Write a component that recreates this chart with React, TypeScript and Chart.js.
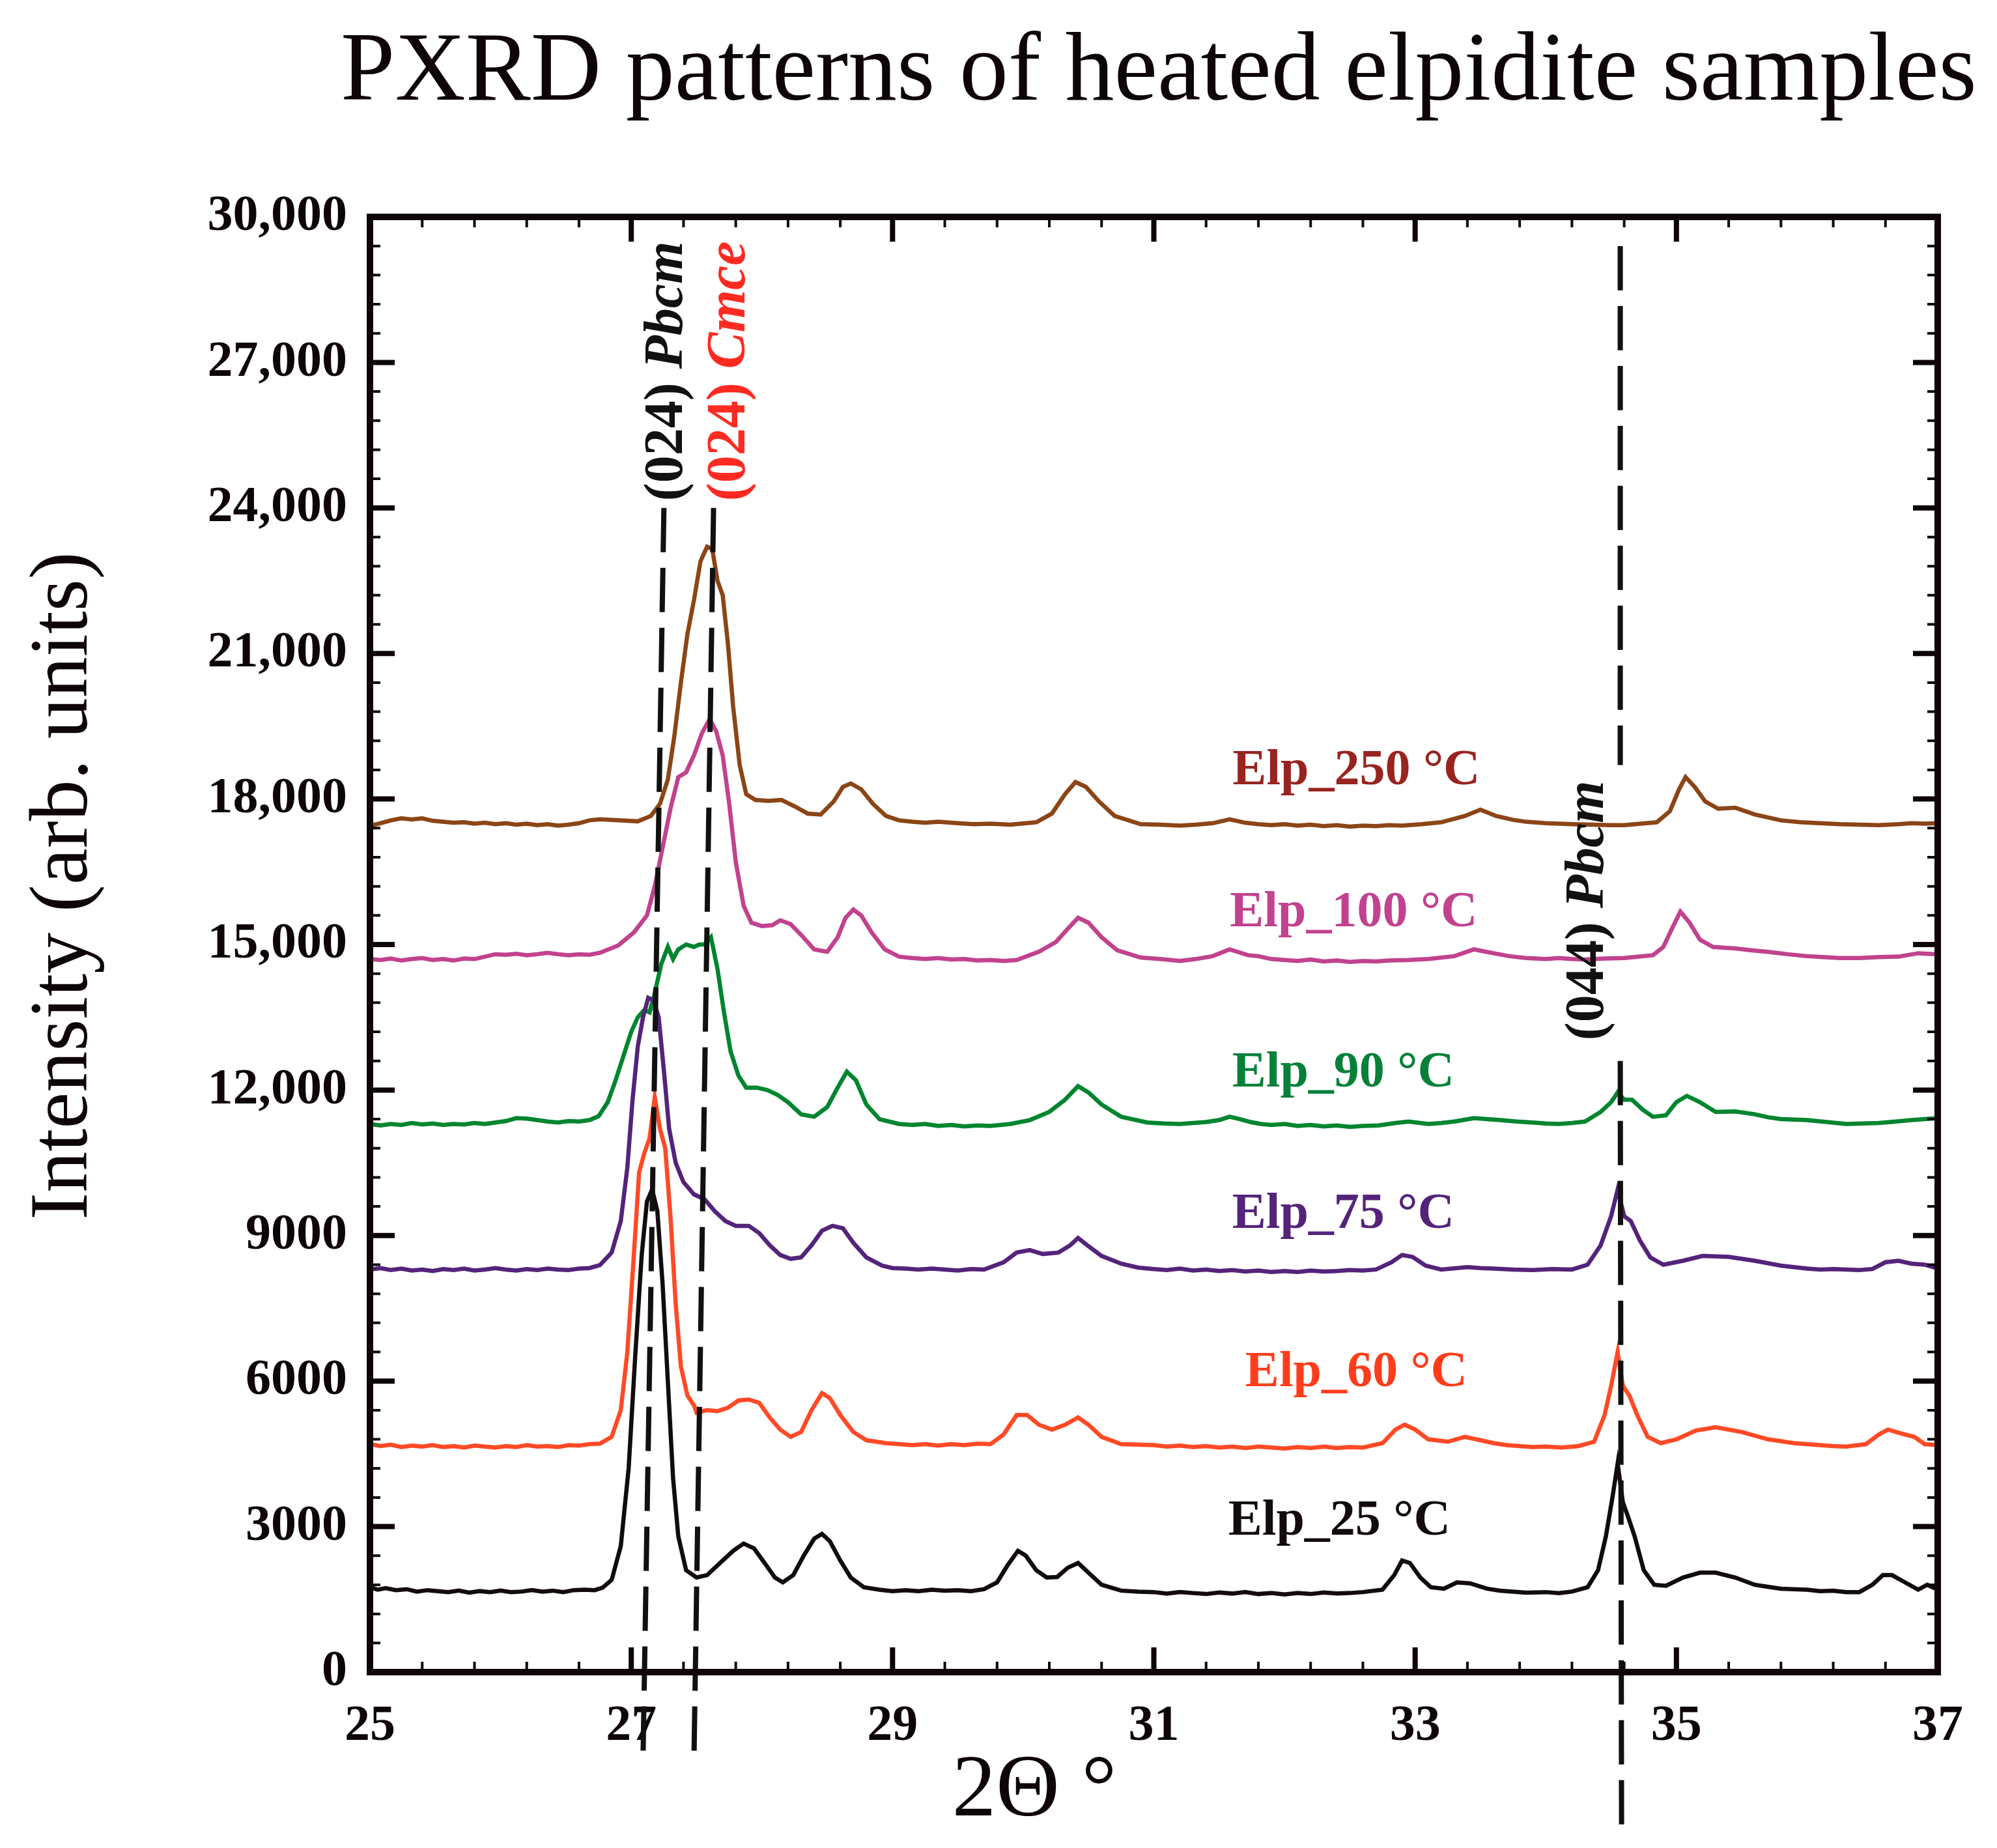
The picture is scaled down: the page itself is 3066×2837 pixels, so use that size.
import { useEffect, useRef } from 'react'
import Chart from 'chart.js/auto'

const W = 3066
const H = 2837
const SERIF = '"Liberation Serif", "Times New Roman", serif'

// 2θ (deg) / intensity pairs, one list per sample
const elp25: [number, number][] = [
  [25.0, 1750], [25.06, 1700], [25.12, 1730], [25.2, 1690], [25.28, 1710], [25.36, 1660], [25.44, 1690],
  [25.52, 1670], [25.6, 1650], [25.68, 1680], [25.76, 1640], [25.84, 1670], [25.92, 1650], [26.0, 1680],
  [26.08, 1650], [26.16, 1660], [26.24, 1690], [26.32, 1660], [26.4, 1680], [26.48, 1650], [26.56, 1690],
  [26.64, 1700], [26.72, 1690], [26.78, 1740], [26.85, 1900], [26.92, 2600],
  [26.98, 4200], [27.03, 6500], [27.08, 8600], [27.12, 9700], [27.16, 9950], [27.2, 9500], [27.24, 8000],
  [27.28, 6000], [27.32, 4000], [27.36, 2800], [27.42, 2100], [27.5, 1950], [27.58, 2000], [27.68, 2250],
  [27.78, 2500], [27.86, 2650], [27.94, 2550], [28.02, 2250], [28.1, 1950], [28.16, 1850], [28.24, 2000],
  [28.32, 2400], [28.4, 2750], [28.46, 2850], [28.52, 2700], [28.6, 2300], [28.68, 1950], [28.78, 1750],
  [28.9, 1700], [29.0, 1670], [29.1, 1690], [29.2, 1670], [29.3, 1700], [29.4, 1680], [29.5, 1690],
  [29.6, 1670], [29.7, 1710], [29.8, 1850], [29.88, 2200],
  [29.96, 2500], [30.02, 2400], [30.1, 2100], [30.18, 1950], [30.26, 1960], [30.34, 2150], [30.42, 2250],
  [30.5, 2050], [30.6, 1800], [30.75, 1680], [30.88, 1660],
  [31.0, 1650], [31.1, 1620], [31.2, 1650], [31.3, 1630], [31.4, 1610], [31.5, 1640], [31.6, 1620],
  [31.7, 1650], [31.8, 1610], [31.9, 1630], [32.0, 1600], [32.1, 1630], [32.2, 1610], [32.3, 1640],
  [32.4, 1620], [32.5, 1630], [32.6, 1650], [32.75, 1700], [32.84, 2000], [32.9, 2300], [32.96, 2250],
  [33.04, 1950], [33.12, 1750], [33.22, 1720], [33.32, 1850], [33.42, 1830], [33.55, 1720], [33.65, 1680],
  [33.75, 1660], [33.85, 1640], [34.0, 1650], [34.1, 1630], [34.2, 1660], [34.32, 1750], [34.4, 2100],
  [34.46, 2800], [34.51, 3600], [34.55, 4300], [34.59, 3500],
  [34.63, 3200], [34.68, 2800], [34.75, 2100], [34.83, 1800], [34.92, 1780], [35.05, 1950], [35.18, 2050],
  [35.3, 2050], [35.45, 1950], [35.6, 1800], [35.7, 1760], [35.8, 1720], [35.9, 1710], [36.0, 1700],
  [36.1, 1670], [36.2, 1680], [36.3, 1650], [36.4, 1650],
  [36.5, 1800], [36.58, 2000], [36.65, 2000], [36.75, 1850], [36.85, 1700], [36.92, 1800], [37.0, 1700],
]

const elp60: [number, number][] = [
  [25.0, 4700], [25.08, 4660], [25.16, 4690], [25.24, 4640], [25.32, 4670], [25.4, 4650], [25.48, 4680],
  [25.56, 4640], [25.64, 4660], [25.72, 4630], [25.8, 4670], [25.88, 4650], [25.96, 4630], [26.04, 4660],
  [26.12, 4640], [26.2, 4680], [26.28, 4650], [26.36, 4660], [26.44, 4640], [26.52, 4680], [26.6, 4670],
  [26.68, 4700], [26.76, 4710], [26.85, 4850], [26.92, 5400], [26.97, 6600], [27.02, 8600],
  [27.06, 10300], [27.1, 10700], [27.14, 11000], [27.18, 11850], [27.22, 11200], [27.26, 10800],
  [27.3, 9400], [27.34, 7600], [27.38, 6300], [27.43, 5700], [27.48, 5500], [27.5, 5350], [27.58, 5400],
  [27.66, 5380], [27.74, 5450], [27.82, 5600], [27.9, 5620], [27.98, 5550], [28.06, 5250], [28.14, 5000],
  [28.22, 4850], [28.3, 4950], [28.38, 5400], [28.46, 5750], [28.52, 5650], [28.6, 5300], [28.7, 4950],
  [28.8, 4780], [28.95, 4720], [29.05, 4700], [29.15, 4680], [29.25, 4700], [29.35, 4670], [29.45, 4700],
  [29.55, 4680], [29.65, 4710], [29.75, 4700], [29.85, 4900], [29.95, 5300],
  [30.03, 5300], [30.12, 5100], [30.22, 5000], [30.32, 5100], [30.42, 5250], [30.5, 5100], [30.6, 4850],
  [30.75, 4700], [30.88, 4690],
  [31.0, 4680], [31.1, 4650], [31.2, 4670], [31.3, 4640], [31.4, 4660], [31.5, 4630], [31.6, 4650],
  [31.7, 4620], [31.8, 4650], [31.9, 4630], [32.0, 4610], [32.1, 4640], [32.2, 4620], [32.3, 4650],
  [32.4, 4620], [32.5, 4640], [32.6, 4630],
  [32.75, 4720], [32.85, 5000], [32.92, 5100], [33.0, 5000], [33.1, 4800], [33.25, 4750], [33.38, 4850],
  [33.5, 4780], [33.6, 4720], [33.7, 4680], [33.8, 4660], [33.9, 4640], [34.0, 4650], [34.12, 4630],
  [34.25, 4660], [34.37, 4750], [34.45, 5300], [34.5, 5900],
  [34.55, 6600], [34.59, 5900], [34.64, 5700], [34.7, 5300], [34.78, 4850], [34.88, 4720], [35.0, 4800],
  [35.15, 4980], [35.3, 5050], [35.5, 4950], [35.7, 4800], [35.8, 4760], [35.9, 4720], [36.0, 4700],
  [36.1, 4680], [36.2, 4660], [36.3, 4650],
  [36.45, 4700], [36.55, 4900], [36.62, 5000], [36.72, 4920], [36.82, 4850], [36.9, 4700], [37.0, 4680],
]

const elp75: [number, number][] = [
  [25.0, 8300], [25.08, 8330], [25.16, 8290], [25.24, 8320], [25.32, 8280], [25.4, 8300], [25.48, 8270],
  [25.56, 8310], [25.64, 8290], [25.72, 8320], [25.8, 8280], [25.88, 8300], [25.96, 8330], [26.04, 8300],
  [26.12, 8280], [26.2, 8310], [26.28, 8290], [26.36, 8320], [26.44, 8300], [26.52, 8290], [26.6, 8320],
  [26.68, 8330], [26.76, 8390], [26.85, 8650], [26.92, 9300], [26.97, 10400], [27.01, 11800],
  [27.05, 12900], [27.09, 13500], [27.13, 13900], [27.17, 13850], [27.21, 13500], [27.25, 12400],
  [27.29, 11200], [27.34, 10500], [27.4, 10100], [27.48, 9850], [27.56, 9750], [27.64, 9500], [27.72, 9300],
  [27.8, 9200], [27.9, 9200], [27.98, 9050], [28.06, 8800], [28.14, 8600], [28.22, 8520], [28.3, 8550],
  [28.38, 8800], [28.46, 9100], [28.54, 9200], [28.62, 9150], [28.7, 8850], [28.8, 8550], [28.92, 8380],
  [29.0, 8330], [29.1, 8320], [29.2, 8300], [29.3, 8320], [29.4, 8300], [29.5, 8280], [29.6, 8310],
  [29.7, 8300], [29.85, 8450], [29.95, 8650], [30.05, 8700], [30.15, 8620],
  [30.27, 8650], [30.36, 8800], [30.42, 8950], [30.5, 8780], [30.6, 8580], [30.75, 8420], [30.88, 8340],
  [31.0, 8310], [31.1, 8290], [31.2, 8320], [31.3, 8280], [31.4, 8300], [31.5, 8270], [31.6, 8290],
  [31.7, 8260], [31.8, 8280], [31.9, 8250], [32.0, 8270], [32.1, 8250], [32.2, 8280], [32.3, 8260],
  [32.4, 8270], [32.5, 8290], [32.6, 8280],
  [32.7, 8300], [32.82, 8450], [32.9, 8600],
  [32.98, 8560], [33.08, 8380], [33.2, 8300], [33.4, 8350], [33.5, 8330], [33.6, 8320], [33.75, 8300],
  [33.9, 8290], [34.05, 8310], [34.2, 8300],
  [34.32, 8400], [34.42, 8800], [34.5, 9400], [34.55, 9950], [34.6, 9400], [34.65, 9300], [34.72, 8900],
  [34.8, 8550], [34.9, 8400], [35.05, 8480], [35.2, 8580], [35.4, 8560], [35.6, 8480], [35.8, 8380],
  [35.9, 8350], [36.0, 8320], [36.1, 8300], [36.2, 8310], [36.3, 8300], [36.4, 8290], [36.5, 8310],
  [36.6, 8450], [36.7, 8480], [36.8, 8420], [36.9, 8400], [37.0, 8320],
]

const elp90: [number, number][] = [
  [25.0, 11300], [25.08, 11270], [25.16, 11300], [25.24, 11280], [25.32, 11320], [25.4, 11290],
  [25.48, 11310], [25.56, 11280], [25.64, 11300], [25.72, 11290], [25.8, 11320], [25.88, 11300],
  [25.96, 11330], [26.04, 11360], [26.12, 11420], [26.2, 11410], [26.28, 11380], [26.36, 11350],
  [26.44, 11330], [26.52, 11360], [26.6, 11350], [26.68, 11380], [26.75, 11460], [26.82, 11750], [26.88, 12200],
  [26.94, 12700], [27.0, 13200], [27.05, 13500], [27.1, 13650], [27.14, 13600], [27.18, 14000],
  [27.23, 14600], [27.28, 14950], [27.32, 14700], [27.36, 14900], [27.42, 15000], [27.48, 14950],
  [27.52, 15000], [27.56, 15000], [27.61, 15150], [27.66, 14500], [27.71, 13600], [27.76, 12800],
  [27.82, 12300], [27.88, 12050], [27.96, 12050], [28.04, 12000], [28.12, 11900], [28.2, 11750],
  [28.3, 11500], [28.4, 11450], [28.5, 11650], [28.58, 12050], [28.65, 12380], [28.72, 12200], [28.8, 11700],
  [28.9, 11400], [29.05, 11300], [29.15, 11280], [29.25, 11300], [29.35, 11260], [29.45, 11280],
  [29.55, 11250], [29.65, 11270], [29.75, 11260], [29.9, 11300], [30.05, 11380], [30.2, 11550],
  [30.32, 11800], [30.42, 12080], [30.5, 11950], [30.6, 11700], [30.75, 11450], [30.95, 11330],
  [31.08, 11310], [31.2, 11300], [31.3, 11320], [31.4, 11340], [31.5, 11380], [31.58, 11450], [31.66, 11400],
  [31.74, 11340], [31.82, 11300], [31.9, 11280], [32.0, 11300], [32.1, 11260], [32.2, 11280],
  [32.3, 11250], [32.4, 11270], [32.5, 11240], [32.6, 11260], [32.72, 11270],
  [32.85, 11320], [32.95, 11350], [33.1, 11300], [33.2, 11320], [33.3, 11350], [33.45, 11420],
  [33.55, 11400], [33.65, 11380], [33.78, 11350], [33.9, 11330], [34.0, 11310], [34.1, 11300], [34.2, 11320],
  [34.3, 11350], [34.42, 11550], [34.5, 11750],
  [34.55, 11950], [34.6, 11800], [34.66, 11800], [34.74, 11600], [34.82, 11450], [34.92, 11480],
  [35.0, 11750], [35.08, 11880], [35.18, 11750], [35.3, 11550], [35.45, 11560], [35.6, 11500],
  [35.7, 11440], [35.8, 11400], [35.9, 11390], [36.0, 11380], [36.15, 11340], [36.3, 11300], [36.42, 11310],
  [36.55, 11320], [36.68, 11350], [36.8, 11380], [36.9, 11400], [37.0, 11420],
]

const elp100: [number, number][] = [
  [25.0, 14700], [25.08, 14680], [25.16, 14710], [25.24, 14670], [25.32, 14700], [25.4, 14720],
  [25.48, 14680], [25.56, 14700], [25.64, 14670], [25.72, 14710], [25.8, 14700], [25.88, 14750],
  [25.96, 14800], [26.04, 14790], [26.12, 14810], [26.2, 14780], [26.28, 14800], [26.36, 14830],
  [26.44, 14800], [26.52, 14780], [26.6, 14800], [26.68, 14790], [26.76, 14830], [26.9, 14980], [27.02, 15250],
  [27.12, 15600], [27.18, 16200], [27.24, 17000], [27.3, 17800], [27.36, 18450], [27.42, 18550],
  [27.48, 18900], [27.54, 19350], [27.6, 19650], [27.65, 19400], [27.7, 18900], [27.75, 17900],
  [27.8, 16700], [27.86, 15800], [27.92, 15450], [28.0, 15380], [28.08, 15400], [28.14, 15500],
  [28.22, 15420], [28.3, 15200], [28.4, 14900], [28.5, 14850], [28.58, 15150], [28.64, 15550],
  [28.7, 15720], [28.76, 15600], [28.84, 15250], [28.94, 14900], [29.05, 14750], [29.15, 14720],
  [29.25, 14700], [29.35, 14720], [29.45, 14690], [29.55, 14700], [29.65, 14670], [29.75, 14680],
  [29.85, 14660], [29.95, 14680], [30.12, 14850], [30.25, 15050], [30.35, 15350], [30.42, 15550],
  [30.5, 15450], [30.6, 15150], [30.72, 14880], [30.9, 14730], [31.05, 14700], [31.2, 14660], [31.32, 14700],
  [31.45, 14760], [31.58, 14900], [31.72, 14780], [31.8, 14760], [31.9, 14700], [32.0, 14680], [32.1, 14660],
  [32.2, 14690], [32.3, 14650], [32.4, 14670], [32.5, 14640], [32.6, 14660], [32.7, 14650], [32.8, 14670],
  [32.95, 14680], [33.1, 14700],
  [33.3, 14760], [33.45, 14900], [33.6, 14820], [33.72, 14760], [33.85, 14720], [34.0, 14700], [34.1, 14720],
  [34.2, 14700], [34.3, 14690], [34.45, 14710], [34.6, 14720],
  [34.82, 14780], [34.9, 14950], [34.97, 15350], [35.03, 15680], [35.1, 15450], [35.18, 15100],
  [35.28, 14950], [35.45, 14920], [35.58, 14880], [35.7, 14850], [35.85, 14800], [36.0, 14760],
  [36.12, 14740], [36.25, 14720], [36.4, 14720], [36.55, 14740], [36.7, 14750],
  [36.85, 14820], [37.0, 14800],
]

const elp250: [number, number][] = [
  [25.0, 17450], [25.08, 17500], [25.16, 17560], [25.24, 17600], [25.32, 17580], [25.4, 17600],
  [25.48, 17550], [25.56, 17530], [25.64, 17510], [25.72, 17520], [25.8, 17490], [25.88, 17510],
  [25.96, 17480], [26.04, 17500], [26.12, 17470], [26.2, 17490], [26.28, 17460], [26.36, 17480],
  [26.44, 17450], [26.52, 17470], [26.6, 17500], [26.68, 17560], [26.76, 17580], [26.9, 17560],
  [27.05, 17540], [27.15, 17650], [27.22, 17900], [27.28, 18400], [27.33, 19300], [27.38, 20400],
  [27.43, 21400], [27.48, 22100], [27.53, 22900], [27.58, 23200], [27.62, 23150], [27.66, 22500],
  [27.7, 22200], [27.74, 21200], [27.78, 19900], [27.83, 18700], [27.88, 18100], [27.95, 17980],
  [28.05, 17960], [28.15, 17980], [28.25, 17850], [28.35, 17700], [28.45, 17680], [28.55, 17950],
  [28.62, 18250], [28.68, 18320], [28.76, 18200], [28.85, 17900], [28.95, 17650], [29.05, 17560],
  [29.15, 17530], [29.25, 17510], [29.35, 17530], [29.5, 17500], [29.62, 17480], [29.75, 17490],
  [29.9, 17470], [30.1, 17520], [30.22, 17700], [30.32, 18100], [30.4, 18350],
  [30.48, 18250], [30.58, 17950], [30.7, 17650], [30.9, 17480], [31.05, 17470], [31.2, 17450],
  [31.32, 17470], [31.45, 17500], [31.58, 17580], [31.7, 17510], [31.8, 17480], [31.9, 17460],
  [32.0, 17480], [32.1, 17450], [32.2, 17470], [32.3, 17440], [32.4, 17460], [32.5, 17430],
  [32.6, 17450], [32.7, 17440], [32.8, 17460], [32.9, 17450], [33.05, 17480], [33.2, 17520],
  [33.38, 17650], [33.5, 17780], [33.62, 17650], [33.75, 17570], [33.85, 17530], [34.0, 17500],
  [34.1, 17490], [34.2, 17480], [34.35, 17470], [34.5, 17460], [34.6, 17460],
  [34.85, 17520], [34.95, 17750], [35.02, 18200], [35.07, 18450], [35.14, 18250], [35.22, 17950],
  [35.32, 17800], [35.45, 17820], [35.6, 17680], [35.8, 17560], [35.95, 17520], [36.1, 17500],
  [36.25, 17480], [36.4, 17470], [36.55, 17460], [36.7, 17480], [36.8, 17500], [36.9, 17490], [37.0, 17500],
]

const seriesData = [elp25, elp60, elp75, elp90, elp100, elp250]
const seriesNames = ['Elp_25 °C', 'Elp_60 °C', 'Elp_75 °C', 'Elp_90 °C', 'Elp_100 °C', 'Elp_250 °C']
const lineColors = ['#120c0e', '#ff4a26', '#54237a', '#00852f', '#c1428e', '#8b4516']
const labelColors = ['#120c0e', '#ff3d1c', '#54237a', '#07813a', '#c1428e', '#982420']
// label anchor (2θ, intensity at text baseline)
const labelAnchors: [number, number][] = [
  [32.42, 2830], [32.55, 5900], [32.45, 9160], [32.45, 12070], [32.53, 15380], [32.55, 18300],
]

// reflection guides, dashed
const guide024Pbcm: [number, number][] = [[27.25, 24000], [27.09, -1800]]
const guide024Cmce: [number, number][] = [[27.63, 24000], [27.48, -1800]]
const guide044Upper: [number, number][] = [[34.57, 29400], [34.57, 18700]]
const guide044Lower: [number, number][] = [[34.57, 12600], [34.58, -3200]]

type Run = { text: string; italic: boolean }
const reflectionLabels: { runs: Run[]; color: string; at: [number, number] }[] = [
  { runs: [{ text: '(024) ', italic: false }, { text: 'Pbcm', italic: true }], color: '#111111', at: [27.28, 26820] },
  { runs: [{ text: '(024) ', italic: false }, { text: 'Cmce', italic: true }], color: '#ff2b22', at: [27.76, 26820] },
  { runs: [{ text: '(044) ', italic: false }, { text: 'Pbcm', italic: true }], color: '#111111', at: [34.33, 15700] },
]

const xMin = 25
const xMax = 37
const xMajorStep = 2
const xMinorStep = 0.4
const yMin = 0
const yMax = 30000
const yMajorStep = 3000
const yMinorStep = 600

const toPoints = (arr: [number, number][]) => arr.map(([x, y]) => ({ x, y }))

function drawVerticalRuns(ctx: CanvasRenderingContext2D, cx: number, cy: number, runs: Run[], size: number, color: string) {
  ctx.save()
  ctx.translate(cx, cy)
  ctx.rotate(-Math.PI / 2)
  const fonts = runs.map(r => `${r.italic ? 'italic ' : ''}bold ${size}px ${SERIF}`)
  const widths = runs.map((r, i) => { ctx.font = fonts[i]; return ctx.measureText(r.text).width })
  let x = -widths.reduce((a, b) => a + b, 0) / 2
  ctx.fillStyle = color
  ctx.textAlign = 'left'
  ctx.textBaseline = 'middle'
  runs.forEach((r, i) => {
    ctx.font = fonts[i]
    ctx.fillText(r.text, x, 0)
    x += widths[i]
  })
  ctx.restore()
}

const decorPlugin = {
  id: 'decor',
  afterDatasetsDraw(chart: any) {
    const ctx: CanvasRenderingContext2D = chart.ctx
    const xs = chart.scales.x
    const ys = chart.scales.y
    const { left, right, top, bottom } = chart.chartArea
    ctx.save()

    // inward ticks on all four sides
    ctx.strokeStyle = '#0d0508'
    const nx = Math.round((xMax - xMin) / xMinorStep)
    for (let i = 0; i <= nx; i++) {
      const v = xMin + i * xMinorStep
      const major = Math.abs((v - xMin) / xMajorStep - Math.round((v - xMin) / xMajorStep)) < 1e-6
      const px = xs.getPixelForValue(v)
      const len = major ? 38 : 16
      ctx.lineWidth = major ? 8 : 4
      ctx.beginPath()
      ctx.moveTo(px, bottom); ctx.lineTo(px, bottom - len)
      ctx.moveTo(px, top); ctx.lineTo(px, top + len)
      ctx.stroke()
    }
    const ny = Math.round((yMax - yMin) / yMinorStep)
    for (let i = 0; i <= ny; i++) {
      const v = yMin + i * yMinorStep
      const major = v % yMajorStep === 0
      const py = ys.getPixelForValue(v)
      const len = major ? 38 : 16
      ctx.lineWidth = major ? 8 : 4
      ctx.beginPath()
      ctx.moveTo(left, py); ctx.lineTo(left + len, py)
      ctx.moveTo(right, py); ctx.lineTo(right - len, py)
      ctx.stroke()
    }

    // frame
    ctx.lineWidth = 10
    ctx.strokeRect(left, top, right - left, bottom - top)

    // sample labels
    ctx.font = `bold 78px ${SERIF}`
    ctx.textAlign = 'center'
    ctx.textBaseline = 'alphabetic'
    seriesNames.forEach((name, i) => {
      ctx.fillStyle = labelColors[i]
      ctx.fillText(name, xs.getPixelForValue(labelAnchors[i][0]), ys.getPixelForValue(labelAnchors[i][1]))
    })

    // reflection labels
    reflectionLabels.forEach(l => {
      drawVerticalRuns(ctx, xs.getPixelForValue(l.at[0]), ys.getPixelForValue(l.at[1]), l.runs, 84, l.color)
    })

    // titles
    ctx.fillStyle = '#0d0508'
    ctx.font = `150px ${SERIF}`
    ctx.textAlign = 'center'
    ctx.textBaseline = 'alphabetic'
    ctx.fillText('PXRD patterns of heated elpidite samples', 1779, 153)

    ctx.font = `135px ${SERIF}`
    ctx.textBaseline = 'middle'
    ctx.fillText('2Θ °', 1588, 2752)

    ctx.save()
    ctx.translate(100, 1360)
    ctx.rotate(-Math.PI / 2)
    ctx.font = `126px ${SERIF}`
    ctx.textAlign = 'center'
    ctx.textBaseline = 'middle'
    ctx.fillText('Intensity (arb. units)', 0, 0)
    ctx.restore()

    ctx.restore()
  },
}

export default function App() {
  const canvasRef = useRef<HTMLCanvasElement>(null)
  const chartRef = useRef<Chart | null>(null)

  useEffect(() => {
    document.body.style.margin = '0'
    if (!canvasRef.current) return
    const ctx = canvasRef.current.getContext('2d')
    if (!ctx) return

    const guide = (pts: [number, number][]) => ({
      data: toPoints(pts),
      borderColor: '#111111',
      borderWidth: 8,
      borderDash: [68, 24],
      pointRadius: 0,
      clip: false as const,
      order: 0,
    })

    chartRef.current = new Chart(ctx, {
      type: 'line',
      data: {
        datasets: [
          guide(guide024Pbcm),
          guide(guide024Cmce),
          guide(guide044Upper),
          guide(guide044Lower),
          ...seriesData.map((d, i) => ({
            label: seriesNames[i],
            data: toPoints(d),
            borderColor: lineColors[i],
            borderWidth: 6.5,
            pointRadius: 0,
            tension: 0,
            order: 1,
          })),
        ],
      },
      options: {
        responsive: false,
        animation: false,
        devicePixelRatio: 1,
        layout: { padding: { left: 0, right: W - 2975, top: 333, bottom: 0 } },
        plugins: {
          legend: { display: false },
          tooltip: { enabled: false },
          title: { display: false },
        },
        scales: {
          x: {
            type: 'linear',
            min: xMin,
            max: xMax,
            afterFit: (s: any) => { s.height = H - 2567 },
            grid: { display: false, drawTicks: false },
            border: { display: false },
            ticks: {
              stepSize: xMajorStep,
              autoSkip: false,
              padding: 37,
              color: '#0d0508',
              font: { family: SERIF, size: 78, weight: 'bold' },
            },
          },
          y: {
            type: 'linear',
            min: yMin,
            max: yMax,
            afterFit: (s: any) => { s.width = 568 },
            grid: { display: false, drawTicks: false },
            border: { display: false },
            ticks: {
              stepSize: yMajorStep,
              autoSkip: false,
              padding: 35,
              color: '#0d0508',
              font: { family: SERIF, size: 78, weight: 'bold' },
              callback: (v: any) => (Number(v) >= 10000 ? Number(v).toLocaleString('en-US') : String(v)),
            },
          },
        },
      },
      plugins: [decorPlugin],
    })

    return () => {
      if (chartRef.current) chartRef.current.destroy()
    }
  }, [])

  return <canvas ref={canvasRef} width={W} height={H} style={{ display: 'block' }}></canvas>
}
